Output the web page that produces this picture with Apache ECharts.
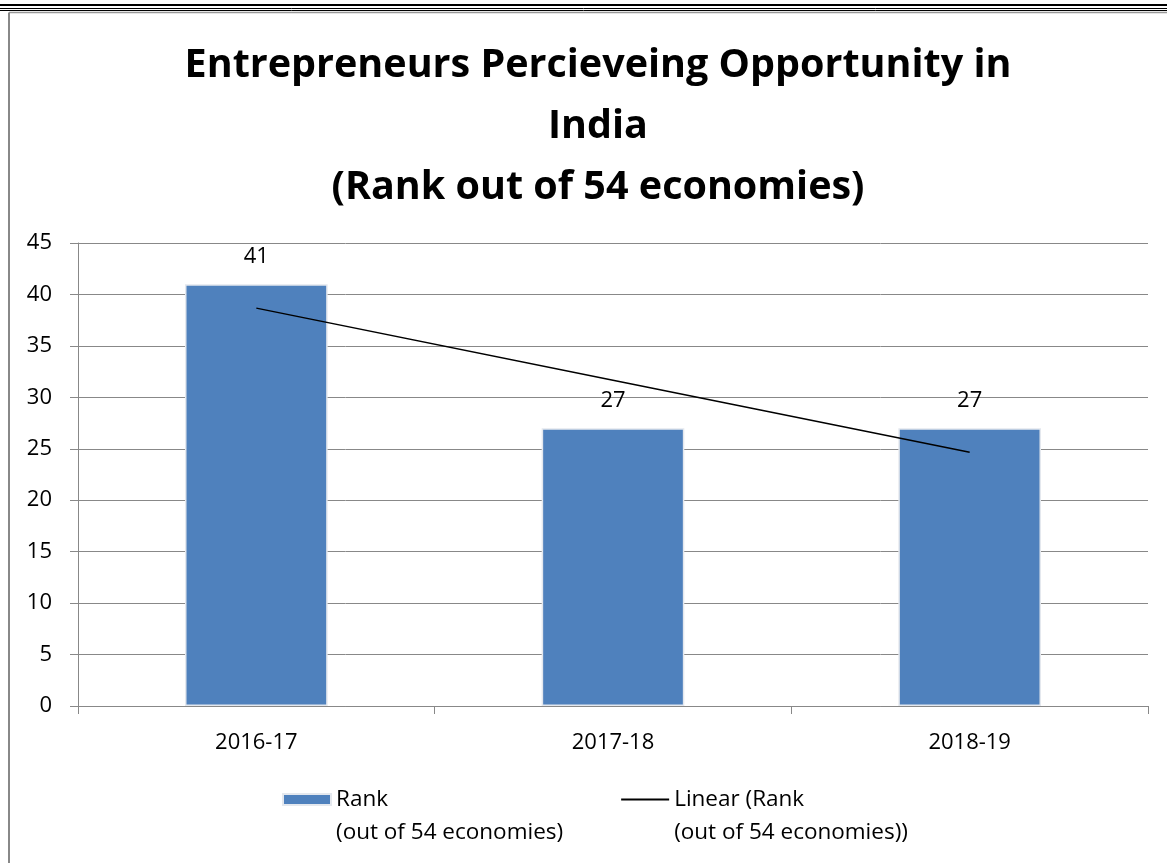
<!DOCTYPE html>
<html><head><meta charset="utf-8">
<script src="https://cdn.jsdelivr.net/npm/echarts@6/dist/echarts.min.js"></script>
<style>html,body{margin:0;padding:0;background:#fff}#c{width:1167px;height:863px}</style>
</head><body><div id="c"></div>
<script>
const categories = ['2016-17', '2017-18', '2018-19'];
const rankValues = [41, 27, 27];
const trendValues = [38.67, 31.67, 24.67];
const yTicks = {min: 0, max: 45, interval: 5};
const titleText = 'Entrepreneurs Percieveing Opportunity in\nIndia\n(Rank out of 54 economies)';
const seriesNames = ['Rank\n(out of 54 economies)', 'Linear (Rank\n(out of 54 economies))'];

const FONT = 'Open Sans';
const chart = echarts.init(document.getElementById('c'));
chart.setOption({
  animation: false,
  backgroundColor: '#fff',
  textStyle: {fontFamily: FONT},
  title: {
    text: titleText, left: 593, top: 30, textAlign: 'center',
    textStyle: {fontFamily: FONT, fontWeight: 'bold', fontSize: 39.5, lineHeight: 61, color: '#000'}
  },
  graphic: [
    {type: 'line', shape: {x1: 0, y1: 5, x2: 1167, y2: 5}, style: {stroke: '#000', lineWidth: 2}},
    {type: 'line', shape: {x1: 0, y1: 8.5, x2: 1167, y2: 8.5}, style: {stroke: '#000', lineWidth: 1}},
    {type: 'line', shape: {x1: 0, y1: 10.5, x2: 1167, y2: 10.5}, style: {stroke: '#000', lineWidth: 1}},
    {type: 'line', shape: {x1: 9, y1: 12.5, x2: 1167, y2: 12.5}, style: {stroke: '#999', lineWidth: 1.5}},
    {type: 'line', shape: {x1: 9, y1: 12.5, x2: 9, y2: 863}, style: {stroke: '#888', lineWidth: 2}}
  ],
  grid: {left: 78, right: 19, top: 243, bottom: 157, containLabel: false},
  legend: {
    left: 277, top: 745, itemGap: 57, itemWidth: 48, itemHeight: 11,
    formatter: function (name) { return '\n' + name; },
    textStyle: {fontFamily: FONT, fontSize: 22.5, lineHeight: 33, color: '#000'},
    data: [
      {name: seriesNames[0], icon: 'rect'},
      {name: seriesNames[1], itemStyle: {color: 'rgba(0,0,0,0)', borderWidth: 0}}
    ]
  },
  xAxis: {
    type: 'category', data: categories,
    axisLine: {lineStyle: {color: '#888', width: 1}},
    axisTick: {show: true, length: 8, lineStyle: {color: '#888'}},
    axisLabel: {color: '#000', fontSize: 22, margin: 26, fontFamily: FONT}
  },
  yAxis: {
    type: 'value', min: yTicks.min, max: yTicks.max, interval: yTicks.interval,
    axisLine: {show: true, lineStyle: {color: '#888', width: 1}},
    axisTick: {show: true, length: 8, lineStyle: {color: '#888'}},
    splitLine: {lineStyle: {color: '#888', width: 1}},
    axisLabel: {color: '#000', fontSize: 22, margin: 26, fontFamily: FONT}
  },
  series: [
    {
      name: seriesNames[0], type: 'bar', data: rankValues, barWidth: '40%',
      itemStyle: {color: '#4F81BD', borderColor: '#e4e8ee', borderWidth: 1.5},
      label: {show: true, position: 'top', distance: 16, color: '#000', fontSize: 22, fontFamily: FONT}
    },
    {
      name: seriesNames[1], type: 'line', data: trendValues, symbol: 'none',
      lineStyle: {color: '#000', width: 1.5}, itemStyle: {color: '#000'}, z: 5
    }
  ]
});
</script></body></html>
